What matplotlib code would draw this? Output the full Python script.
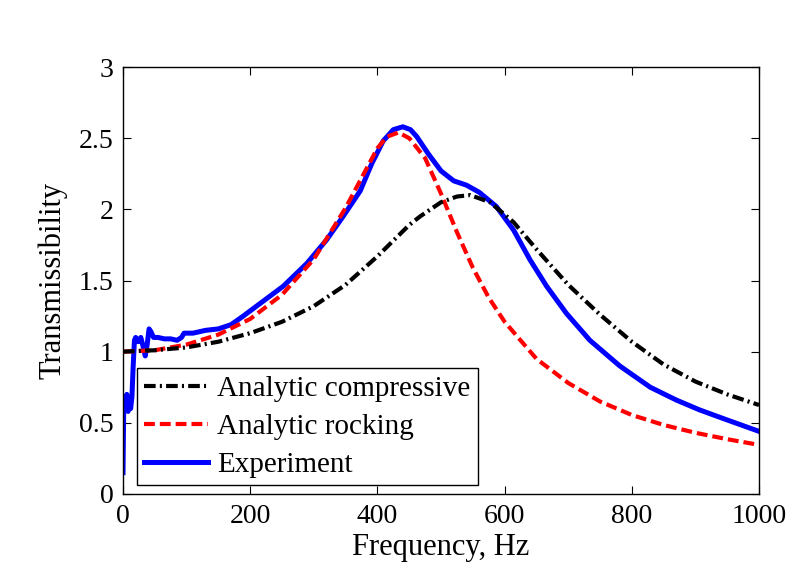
# 伝達率の周波数特性グラフを描画
import matplotlib
matplotlib.use('Agg')
import matplotlib.pyplot as plt

# 解析解(圧縮モード)
freq_comp = [0, 50, 100, 150, 200, 250, 300, 350, 400, 450, 467, 500, 525, 546,
             577, 614, 650, 700, 750, 800, 850, 900, 950, 1000]
trans_comp = [1.00, 1.01, 1.03, 1.07, 1.13, 1.21, 1.32, 1.47, 1.67, 1.89, 1.95, 2.05,
              2.09, 2.10, 2.05, 1.91, 1.72, 1.47, 1.26, 1.07, 0.91, 0.79, 0.70, 0.625]

# 解析解(ロッキングモード)
freq_rock = [0, 50, 100, 150, 200, 250, 300, 350, 375, 400, 415, 433, 450, 475,
             500, 525, 550, 575, 600, 650, 700, 750, 800, 850, 900, 950, 1000]
trans_rock = [1.00, 1.01, 1.05, 1.12, 1.23, 1.40, 1.65, 2.01, 2.22, 2.43, 2.51, 2.54,
              2.50, 2.36, 2.11, 1.84, 1.59, 1.38, 1.21, 0.95, 0.78, 0.65, 0.555,
              0.485, 0.43, 0.385, 0.345]

# 実験値
freq_exp = [0, 1, 2, 4, 6, 8, 10, 12, 14, 16, 18, 20, 24, 28, 32, 35, 38, 41, 44,
            48, 55, 65, 75, 85, 92, 96, 110, 130, 150, 170, 189, 216, 252, 289,
            320, 346, 373, 391, 409, 425, 440, 452, 462, 480, 500, 520, 540, 560,
            587, 614, 640, 666, 697, 734, 781, 829, 870, 907, 950, 1000]
trans_exp = [0.15, 0.55, 0.68, 0.62, 0.70, 0.58, 0.65, 0.60, 0.68, 0.90, 1.08, 1.10,
             1.07, 1.10, 1.03, 0.97, 1.05, 1.16, 1.14, 1.10, 1.10, 1.09, 1.09, 1.08,
             1.10, 1.13, 1.13, 1.15, 1.16, 1.19, 1.25, 1.34, 1.46, 1.62, 1.785, 1.95,
             2.13, 2.32, 2.48, 2.56, 2.58, 2.56, 2.51, 2.39, 2.27, 2.20, 2.17, 2.12,
             2.02, 1.855, 1.645, 1.46, 1.27, 1.08, 0.90, 0.75, 0.66, 0.59, 0.52, 0.44]

tick_x = [0, 200, 400, 600, 800, 1000]
tick_y = [0, 0.5, 1, 1.5, 2, 2.5, 3]

plt.rcParams['font.family'] = ['Liberation Serif', 'DejaVu Serif']
fs_tick = 20
fs_label = 22
fs_leg = 21

fig = plt.figure(figsize=(7.9, 5.68), dpi=100)
ax = fig.add_axes([0.1557, 0.1303, 0.8051, 0.7517])

# 各系列をプロット
ax.plot(freq_exp, trans_exp, color='#0000ff', lw=3.6, zorder=2,
        label='Experiment', solid_joinstyle='round')
ax.plot(freq_rock, trans_rock, color='#ff0000', lw=3.0, dashes=(2.6, 1.2), zorder=3,
        label='Analytic rocking')
ax.plot(freq_comp, trans_comp, color='black', lw=3.0, dashes=(2.8, 1.0, 0.5, 1.0),
        zorder=4, label='Analytic compressive')

ax.set_xlim(0, 1000)
ax.set_ylim(0, 3)
ax.set_xticks(tick_x)
ax.set_yticks(tick_y)
ax.set_yticklabels(['0', '0.5', '1', '1.5', '2', '2.5', '3'])
ax.tick_params(direction='in', length=6, width=0.8, top=True, right=True,
               labelsize=fs_tick)
ax.tick_params(axis='x', pad=7)
ax.tick_params(axis='y', pad=7)
for s in ax.spines.values():
    s.set_linewidth(1.0)

ax.set_xlabel('Frequency, Hz', fontsize=fs_label, labelpad=3)
ax.set_ylabel('Transmissibility', fontsize=fs_label, labelpad=8)

# 凡例(左下)
h, l = ax.get_legend_handles_labels()
leg = ax.legend(h[::-1], l[::-1], loc='lower left', bbox_to_anchor=(0.022, 0.02),
                fontsize=fs_leg, frameon=True, fancybox=False, framealpha=1,
                edgecolor='black', handlelength=2.2, handletextpad=0.3,
                borderpad=0.25, labelspacing=0.4, borderaxespad=0)
leg.get_frame().set_linewidth(1.0)

fig.savefig('out.png', dpi=100)
